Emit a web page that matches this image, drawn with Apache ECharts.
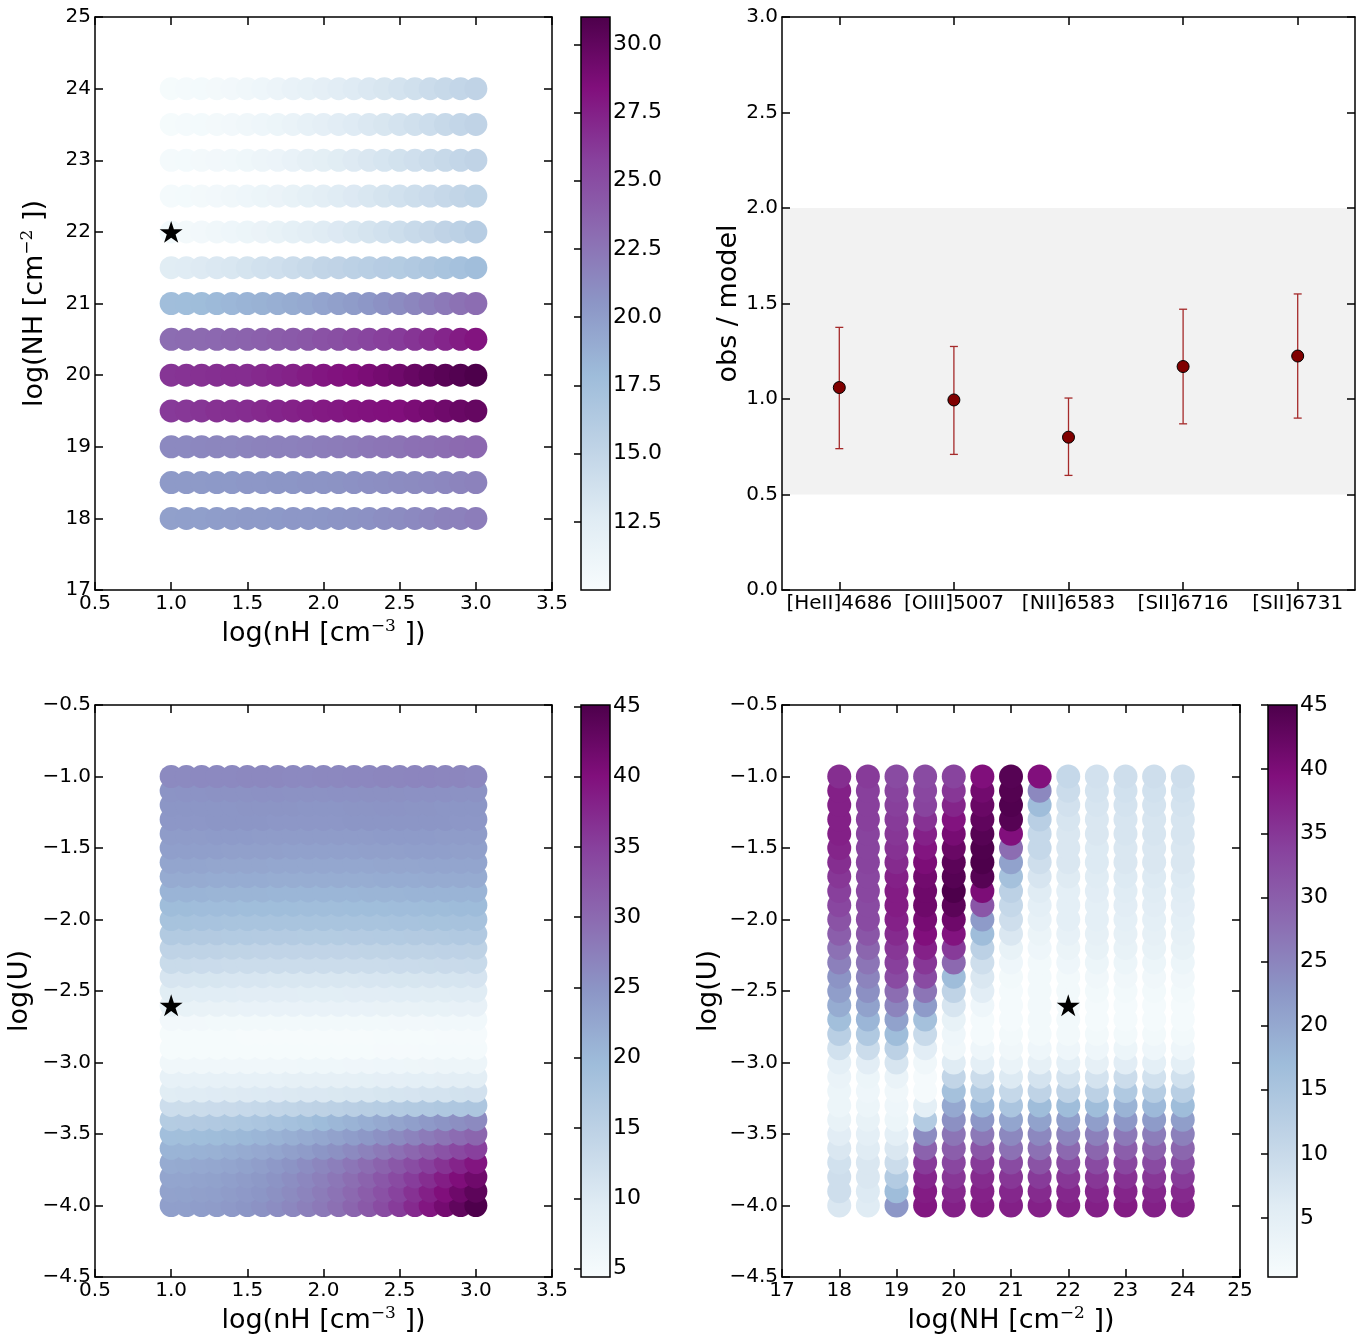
<!DOCTYPE html>
<html>
<head>
<meta charset="utf-8">
<script src="https://cdn.jsdelivr.net/npm/echarts@6/dist/echarts.min.js"></script>
<style>
  html, body { margin: 0; padding: 0; background: #fff; }
  #main { width: 1372px; height: 1340px; }
</style>
</head>
<body>
<div id="main"></div>
<script>
// ---------- data ----------
// log(nH) grid shared by the two left panels
const nhGrid = [1.0, 1.1, 1.2, 1.3, 1.4, 1.5, 1.6, 1.7, 1.8, 1.9, 2.0, 2.1, 2.2, 2.3, 2.4, 2.5, 2.6, 2.7, 2.8, 2.9, 3.0]
// log(NH) rows of the top-left panel
const colRows = [18, 18.5, 19, 19.5, 20, 20.5, 21, 21.5, 22, 22.5, 23, 23.5, 24]
// top-left colour values, one row per log(NH) (same order as colRows)
const tlValues = [
  [19.8, 19.9, 19.9, 20.0, 20.1, 20.2, 20.2, 20.3, 20.4, 20.4, 20.5, 20.6, 20.7, 20.8, 21.0, 21.1, 21.3, 21.5, 21.7, 21.8, 22.0],
  [20.2, 20.2, 20.2, 20.3, 20.3, 20.4, 20.4, 20.5, 20.5, 20.6, 20.6, 20.7, 20.8, 20.9, 21.0, 21.1, 21.2, 21.3, 21.4, 21.6, 21.7],
  [21.3, 21.3, 21.4, 21.5, 21.5, 21.6, 21.7, 21.8, 21.8, 21.9, 22.0, 22.1, 22.2, 22.4, 22.5, 22.6, 22.8, 22.9, 23.0, 23.2, 23.3],
  [26.1, 26.2, 26.4, 26.6, 26.7, 26.8, 27.0, 27.2, 27.4, 27.6, 27.8, 27.9, 28.1, 28.2, 28.3, 28.4, 28.7, 29.0, 29.3, 29.6, 29.8],
  [26.4, 26.5, 26.6, 26.7, 26.8, 26.8, 27.0, 27.2, 27.4, 27.7, 28.0, 28.2, 28.4, 28.7, 29.0, 29.3, 29.7, 30.1, 30.4, 30.7, 31.0],
  [23.0, 23.1, 23.2, 23.3, 23.5, 23.6, 23.8, 24.0, 24.2, 24.4, 24.7, 24.9, 25.2, 25.5, 25.8, 26.0, 26.4, 26.8, 27.2, 27.7, 28.1],
  [17.6, 17.7, 17.8, 18.0, 18.2, 18.4, 18.6, 18.8, 19.0, 19.2, 19.5, 19.8, 20.1, 20.4, 20.8, 21.1, 21.5, 21.9, 22.3, 22.7, 23.0],
  [12.5, 12.6, 12.8, 13.0, 13.2, 13.5, 13.8, 14.0, 14.3, 14.6, 15.0, 15.2, 15.5, 15.7, 16.0, 16.1, 16.4, 16.7, 17.0, 17.3, 17.6],
  [10.4, 10.5, 10.6, 10.8, 11.0, 11.2, 11.4, 11.7, 12.0, 12.3, 12.6, 12.9, 13.2, 13.5, 13.8, 14.1, 14.5, 14.8, 15.2, 15.5, 15.9],
  [10.3, 10.4, 10.5, 10.6, 10.8, 11.0, 11.2, 11.4, 11.7, 12.0, 12.3, 12.6, 12.9, 13.2, 13.5, 13.8, 14.1, 14.4, 14.7, 15.0, 15.3],
  [10.3, 10.4, 10.5, 10.6, 10.7, 10.9, 11.1, 11.3, 11.6, 11.9, 12.2, 12.5, 12.8, 13.1, 13.4, 13.7, 14.0, 14.3, 14.6, 14.9, 15.2],
  [10.2, 10.3, 10.4, 10.5, 10.6, 10.8, 11.0, 11.2, 11.5, 11.8, 12.1, 12.4, 12.7, 13.0, 13.3, 13.6, 13.9, 14.2, 14.6, 14.9, 15.2],
  [10.2, 10.3, 10.4, 10.5, 10.6, 10.8, 11.0, 11.3, 11.6, 11.8, 12.1, 12.4, 12.7, 13.0, 13.3, 13.6, 13.9, 14.3, 14.6, 14.9, 15.2],
]

// log(U) rows, top to bottom
const uRows = [-1.0, -1.1, -1.2, -1.3, -1.4, -1.5, -1.6, -1.7, -1.8, -1.9, -2.0, -2.1, -2.2, -2.3, -2.4, -2.5,
  -2.6, -2.7, -2.8, -2.9, -3.0, -3.1, -3.2, -3.3, -3.4, -3.5, -3.6, -3.7, -3.8, -3.9, -4.0]
// bottom-left colour values, one row per log(U) (same order as uRows)
const blValues = [
  [26.2, 26.2, 26.3, 26.3, 26.3, 26.4, 26.4, 26.4, 26.3, 26.3, 26.4, 26.4, 26.5, 26.5, 26.6, 26.7, 26.8, 26.8, 26.7, 26.6, 26.5],
  [25.0, 25.1, 25.1, 25.2, 25.2, 25.2, 25.3, 25.3, 25.2, 25.2, 25.2, 25.3, 25.3, 25.4, 25.4, 25.4, 25.3, 25.3, 25.3, 25.2, 25.2],
  [24.7, 24.7, 24.8, 24.8, 24.8, 24.9, 24.9, 24.9, 24.9, 24.8, 24.8, 24.8, 24.9, 24.9, 25.0, 25.0, 24.9, 24.9, 24.8, 24.8, 24.8],
  [24.6, 24.6, 24.6, 24.7, 24.7, 24.7, 24.7, 24.6, 24.6, 24.6, 24.6, 24.6, 24.7, 24.7, 24.7, 24.8, 24.8, 24.7, 24.7, 24.6, 24.6],
  [24.0, 24.0, 24.0, 24.1, 24.1, 24.1, 24.0, 24.0, 24.0, 23.9, 23.9, 23.9, 24.0, 24.0, 24.1, 24.1, 24.1, 24.1, 24.0, 24.0, 24.0],
  [23.5, 23.5, 23.5, 23.5, 23.4, 23.4, 23.4, 23.4, 23.3, 23.3, 23.3, 23.3, 23.3, 23.4, 23.4, 23.4, 23.5, 23.5, 23.5, 23.4, 23.4],
  [22.7, 22.7, 22.7, 22.6, 22.6, 22.6, 22.6, 22.5, 22.5, 22.5, 22.5, 22.5, 22.5, 22.5, 22.6, 22.6, 22.6, 22.7, 22.7, 22.7, 22.7],
  [21.9, 21.9, 21.9, 21.8, 21.8, 21.8, 21.8, 21.7, 21.7, 21.7, 21.7, 21.7, 21.7, 21.7, 21.8, 21.8, 21.8, 21.9, 21.9, 21.9, 21.9],
  [20.7, 20.7, 20.7, 20.6, 20.6, 20.6, 20.6, 20.5, 20.5, 20.5, 20.5, 20.5, 20.5, 20.6, 20.6, 20.6, 20.7, 20.7, 20.7, 20.8, 20.8],
  [19.5, 19.5, 19.4, 19.4, 19.4, 19.3, 19.3, 19.3, 19.3, 19.2, 19.2, 19.2, 19.3, 19.3, 19.3, 19.4, 19.4, 19.5, 19.5, 19.6, 19.6],
  [18.2, 18.2, 18.1, 18.1, 18.0, 18.0, 18.0, 17.9, 17.9, 17.9, 17.9, 17.9, 17.9, 18.0, 18.0, 18.1, 18.1, 18.2, 18.2, 18.3, 18.3],
  [16.6, 16.6, 16.5, 16.5, 16.4, 16.4, 16.3, 16.3, 16.3, 16.2, 16.2, 16.2, 16.3, 16.3, 16.4, 16.4, 16.5, 16.5, 16.6, 16.7, 16.7],
  [14.6, 14.6, 14.5, 14.5, 14.4, 14.4, 14.3, 14.3, 14.3, 14.3, 14.3, 14.3, 14.3, 14.4, 14.4, 14.5, 14.5, 14.6, 14.7, 14.7, 14.8],
  [13.0, 13.0, 12.9, 12.9, 12.8, 12.8, 12.7, 12.7, 12.7, 12.7, 12.7, 12.7, 12.7, 12.8, 12.8, 12.9, 12.9, 13.0, 13.1, 13.1, 13.2],
  [10.9, 10.9, 10.8, 10.8, 10.7, 10.7, 10.7, 10.6, 10.6, 10.6, 10.6, 10.6, 10.6, 10.7, 10.7, 10.8, 10.8, 10.9, 11.0, 11.0, 11.1],
  [9.3, 9.3, 9.2, 9.2, 9.2, 9.1, 9.1, 9.1, 9.1, 9.0, 9.0, 9.0, 9.1, 9.1, 9.1, 9.2, 9.2, 9.3, 9.3, 9.4, 9.4],
  [7.7, 7.7, 7.6, 7.6, 7.6, 7.5, 7.5, 7.5, 7.5, 7.5, 7.5, 7.5, 7.5, 7.5, 7.6, 7.6, 7.6, 7.7, 7.7, 7.8, 7.8],
  [5.6, 5.6, 5.6, 5.5, 5.5, 5.5, 5.5, 5.5, 5.5, 5.5, 5.5, 5.5, 5.5, 5.5, 5.5, 5.6, 5.6, 5.6, 5.7, 5.7, 5.7],
  [4.8, 4.8, 4.8, 4.8, 4.8, 4.7, 4.7, 4.7, 4.7, 4.7, 4.7, 4.7, 4.7, 4.7, 4.8, 4.8, 4.8, 4.8, 4.9, 4.9, 4.9],
  [4.8, 4.8, 4.8, 4.8, 4.8, 4.8, 4.8, 4.8, 4.8, 4.8, 4.8, 4.8, 4.8, 4.8, 4.9, 4.9, 4.9, 5.0, 5.0, 5.1, 5.1],
  [6.0, 6.0, 6.0, 6.0, 6.0, 6.0, 6.0, 6.0, 6.0, 6.1, 6.1, 6.1, 6.2, 6.2, 6.3, 6.3, 6.4, 6.5, 6.6, 6.6, 6.7],
  [8.0, 8.0, 8.0, 8.0, 8.0, 8.0, 8.0, 8.0, 8.1, 8.1, 8.1, 8.2, 8.2, 8.3, 8.4, 8.4, 8.5, 8.6, 8.7, 8.8, 8.9],
  [9.3, 9.4, 9.5, 9.6, 9.7, 9.8, 9.9, 10.0, 10.1, 10.2, 10.3, 10.4, 10.5, 10.6, 10.8, 11.0, 11.1, 11.3, 11.4, 11.6, 11.7],
  [12.5, 12.6, 12.7, 12.9, 13.1, 13.3, 13.6, 13.9, 14.2, 14.5, 14.8, 15.1, 15.4, 15.7, 16.0, 16.3, 16.6, 16.8, 17.0, 17.2, 17.4],
  [16.2, 16.3, 16.5, 16.7, 17.0, 17.3, 17.7, 18.1, 18.6, 19.1, 19.7, 20.3, 20.9, 21.5, 22.2, 22.9, 23.6, 24.3, 25.0, 25.6, 26.2],
  [19.0, 19.1, 19.3, 19.5, 19.8, 20.1, 20.5, 20.9, 21.4, 21.9, 22.5, 23.1, 23.8, 24.5, 25.3, 26.1, 27.0, 27.9, 28.8, 29.7, 30.5],
  [20.7, 20.8, 21.0, 21.2, 21.5, 21.9, 22.3, 22.8, 23.4, 24.0, 24.7, 25.4, 26.2, 27.1, 28.1, 29.2, 30.3, 31.5, 32.7, 33.9, 35.0],
  [22.0, 22.1, 22.3, 22.5, 22.8, 23.2, 23.7, 24.3, 25.0, 25.8, 26.6, 27.5, 28.5, 29.6, 30.8, 32.1, 33.5, 34.9, 36.4, 37.9, 39.4],
  [22.7, 22.8, 23.0, 23.2, 23.5, 23.9, 24.4, 25.0, 25.7, 26.5, 27.4, 28.4, 29.5, 30.8, 32.2, 33.7, 35.3, 36.9, 38.6, 40.2, 41.8],
  [23.1, 23.2, 23.4, 23.6, 23.9, 24.3, 24.8, 25.4, 26.1, 26.9, 27.8, 28.9, 30.1, 31.5, 33.0, 34.7, 36.5, 38.3, 40.1, 41.9, 43.5],
  [23.5, 23.6, 23.8, 24.0, 24.3, 24.7, 25.2, 25.8, 26.5, 27.3, 28.2, 29.3, 30.6, 32.0, 33.6, 35.4, 37.3, 39.3, 41.3, 43.2, 45.0],
]

// bottom-right: log(NH) columns, each with one value per log(U) row (same order as uRows)
const brColumns = [18, 18.5, 19, 19.5, 20, 20.5, 21, 21.5, 22, 22.5, 23, 23.5, 24]
const brValues = [
  [36, 37.5, 37.5, 37.5, 37.5, 37, 36, 35, 34, 33, 31.5, 30, 27.5, 25.5, 23, 21.5, 19.5, 16.5, 12.5, 8.5, 5, 3.5, 3, 3, 4, 5.5, 7, 8.5, 9, 9, 7],
  [34.5, 34, 34, 34, 33.5, 33.5, 33.5, 33, 33, 32.5, 32.5, 31, 29, 27, 25, 23.5, 21, 18, 14, 9.5, 5.5, 3, 2.5, 3, 4, 5, 6, 7, 7, 6.5, 6],
  [32.5, 33.5, 34, 34.5, 35, 35.5, 36.3, 37.4, 38, 38, 37.4, 36.3, 35, 34, 32.5, 28, 25, 21, 17, 12, 7.5, 3.5, 2, 2.5, 3, 5, 7, 9.5, 13.5, 17, 22.5],
  [32.5, 33, 33.5, 35.5, 37.4, 38.8, 40, 41, 41.5, 41.5, 40.5, 39.4, 37.4, 35, 32.5, 27, 22, 16, 10, 5.5, 2, 1, 1, 5, 13.5, 24, 29.5, 34.5, 36.8, 38, 38.5],
  [33.5, 35, 37, 39, 40.5, 42, 43.5, 44, 45, 43.5, 41.5, 39, 34.5, 28.5, 17, 11.5, 7.5, 4, 2.5, 2, 6, 11, 16, 20, 23.5, 27, 30, 33, 35, 36.5, 37.5],
  [39.5, 41, 42, 43, 44, 44.8, 45, 44, 40, 31, 22, 17, 12, 9, 7, 5.5, 2.5, 1.2, 1.2, 2.5, 5, 9.5, 13.5, 17.5, 22.5, 26.5, 31, 34.5, 36.3, 37.4, 38],
  [44, 44.3, 44.6, 44, 39.4, 28, 21, 16, 12, 10.5, 9, 7, 4, 2.5, 1.5, 1.2, 1.2, 1.2, 1.5, 2, 3.5, 6.5, 10.5, 15, 20.5, 24.5, 27.5, 32.5, 35, 36.8, 37.5],
  [39.4, 24.5, 17, 12.5, 10.5, 10.5, 9, 7.5, 6, 5, 4.2, 3.2, 2.5, 1.5, 1.5, 1.5, 1.5, 1.5, 1.5, 2.5, 4.5, 8, 11.5, 17, 21, 24.5, 27.5, 31.5, 34.5, 36.3, 37.4],
  [10.5, 9.5, 8.4, 7.5, 7, 7, 7, 6.2, 5, 5, 5, 4.2, 3.3, 2.5, 1.5, 1.5, 1.5, 1.5, 1.5, 2.5, 5, 8, 11.5, 17, 21.5, 25, 28.5, 32.5, 35, 36.8, 37.5],
  [8.4, 8, 7.5, 7, 7, 6.5, 6.5, 6, 5.5, 5, 5, 4.5, 4, 3, 2, 1.5, 1.2, 1.2, 1.5, 2.5, 4.5, 8, 12, 17, 21.5, 25.5, 29, 32.5, 35, 36.8, 37.5],
  [9, 8.5, 8, 7.5, 7.5, 7, 7, 6.5, 6, 5.5, 5, 4.5, 4, 3, 2, 1.5, 1.2, 1.2, 1.5, 3, 5.5, 9.5, 14, 18.5, 22.5, 26.5, 30, 33, 35.5, 37, 38],
  [9, 8.5, 8, 7.5, 7.5, 7, 7, 6.5, 6, 5.5, 5, 4.5, 4, 3, 2, 1.5, 1.2, 1.2, 1.5, 2.5, 5, 8.5, 13, 17.5, 22, 26, 29.5, 32.5, 35, 36.8, 37.5],
  [9, 8.5, 8, 7.5, 7.5, 7, 7, 6.5, 6, 5.5, 5, 4.5, 4, 3, 2, 1.5, 1.2, 1.2, 1.5, 2.5, 5, 8.5, 12.5, 17, 21.5, 25.5, 29, 32, 34.5, 36.5, 37.5],
]

// best-fit markers
const starTL = [1.0, 22]
const starBL = [1.0, -2.6]
const starBR = [22, -2.6]

// top-right: obs / model ratios
const lineNames = ['[HeII]4686', '[OIII]5007', '[NII]6583', '[SII]6716', '[SII]6731']
const ratio = [1.06, 0.995, 0.80, 1.17, 1.225]
const ratioLow = [0.74, 0.71, 0.60, 0.87, 0.90]
const ratioHigh = [1.375, 1.275, 1.005, 1.47, 1.55]
const band = [0.5, 2.0]

// colour bar ranges and ticks
const tlRange = [10, 31]
const blRange = [4.4, 45.1]
const brRange = [0.4, 45]
const tlBarTicks = [12.5, 15, 17.5, 20, 22.5, 25, 27.5, 30]
const blBarTicks = [5, 10, 15, 20, 25, 30, 35, 40, 45]
const brBarTicks = [5, 10, 15, 20, 25, 30, 35, 40, 45]

// ---------- styling ----------
const FONT = 'DejaVu Sans'
const BU_PU = ['#f7fcfd', '#e0ecf4', '#bfd3e6', '#9ebcda', '#8c96c6', '#8c6bb1', '#88419d', '#810f7c', '#4d004b']
const STAR = 'path://M50,0 L61.23,34.55 L97.55,34.55 L68.16,55.9 L79.39,90.45 L50,69.1 L20.61,90.45 L31.84,55.9 L2.45,34.55 L38.77,34.55 Z'
const minus = (s) => String(s).replace('-', '\u2212')
const lineStyle = { color: '#000', width: 1.5 }

const nameStyle = {
  color: '#000',
  fontFamily: FONT,
  fontSize: 27,
  rich: {
    a: { fontSize: 27, fontFamily: FONT, color: '#000', lineHeight: 32 },
    s: { fontSize: 17, fontFamily: 'DejaVu Serif', color: '#000', verticalAlign: 'top', lineHeight: 16 },
  },
}

// main axis with labels
function mainAxis(type, grid, position, min, max, interval, fmt, name, nameGap) {
  return {
    type: 'value',
    gridIndex: grid,
    position,
    min,
    max,
    interval,
    z: 10,
    axisLine: { show: true, onZero: false, lineStyle },
    axisTick: { show: true, inside: true, length: 8, lineStyle },
    axisLabel: { show: true, color: '#000', fontSize: 20, fontFamily: FONT, margin: type === 'x' ? 4 : 4, formatter: fmt },
    splitLine: { show: false },
    name,
    nameLocation: 'middle',
    nameGap,
    nameTextStyle: nameStyle,
  }
}
// mirrored axis, only line and ticks
function mirrorAxis(grid, position, min, max, interval) {
  return {
    type: 'value',
    gridIndex: grid,
    position,
    min,
    max,
    interval,
    z: 10,
    axisLine: { show: true, onZero: false, lineStyle },
    axisTick: { show: true, inside: true, length: 8, lineStyle },
    axisLabel: { show: false },
    splitLine: { show: false },
  }
}
// colour bar axes
function barX(grid) {
  return { type: 'value', gridIndex: grid, min: 0, max: 1, show: false }
}
function barY(grid, range, ticks, fmt) {
  return {
    type: 'value',
    gridIndex: grid,
    position: 'right',
    min: range[0],
    max: range[1],
    z: 10,
    axisLine: { show: false },
    axisTick: { show: true, inside: true, length: 7, lineStyle, customValues: ticks },
    axisLabel: { show: true, color: '#000', fontSize: 22, fontFamily: FONT, margin: 3, formatter: fmt, customValues: ticks },
    splitLine: { show: false },
  }
}

const gradStops = BU_PU.map((c, i) => ({ offset: i / (BU_PU.length - 1), color: c }))
function colorBar(axisIdx, range) {
  return {
    type: 'custom',
    xAxisIndex: axisIdx,
    yAxisIndex: axisIdx,
    silent: true,
    data: [[0, range[0], range[1]]],
    renderItem(params, api) {
      const p0 = api.coord([0, api.value(2)])
      const p1 = api.coord([1, api.value(1)])
      return {
        type: 'rect',
        shape: { x: p0[0], y: p0[1], width: p1[0] - p0[0], height: p1[1] - p0[1] },
        style: { fill: new echarts.graphic.LinearGradient(0, 1, 0, 0, gradStops), stroke: '#000', lineWidth: 1.5 },
      }
    },
  }
}
function starSeries(axisIdx, pos) {
  return {
    type: 'scatter',
    xAxisIndex: axisIdx,
    yAxisIndex: axisIdx,
    symbol: STAR,
    symbolKeepAspect: true,
    symbolSize: 23,
    z: 5,
    itemStyle: { color: '#000', opacity: 1 },
    data: [pos],
  }
}

// ---------- point tables ----------
const tlPoints = []
colRows.forEach((nh, r) => {
  nhGrid.forEach((x, c) => tlPoints.push([x, nh, tlValues[r][c]]))
})
// lower rows first so the upper rows sit on top
const blPoints = []
for (let r = uRows.length - 1; r >= 0; r--) {
  nhGrid.forEach((x, c) => blPoints.push([x, uRows[r], blValues[r][c]]))
}
const brPoints = []
for (let r = uRows.length - 1; r >= 0; r--) {
  brColumns.forEach((nh, c) => brPoints.push([nh, uRows[r], brValues[c][r]]))
}
const errData = lineNames.map((n, i) => [i, ratioLow[i], ratioHigh[i]])

const chart = echarts.init(document.getElementById('main'), null, { renderer: 'canvas' })

const option = {
  animation: false,
  backgroundColor: '#fff',
  grid: [
    { left: 95, top: 17, width: 457, height: 573 },   // 0 top-left
    { left: 581, top: 17, width: 29, height: 573 },   // 1 its colour bar
    { left: 782, top: 17, width: 573, height: 573 },  // 2 top-right
    { left: 95, top: 705, width: 457, height: 572 },  // 3 bottom-left
    { left: 581, top: 705, width: 29, height: 572 },  // 4 its colour bar
    { left: 782, top: 705, width: 458, height: 572 }, // 5 bottom-right
    { left: 1268, top: 705, width: 29, height: 572 }, // 6 its colour bar
  ],
  xAxis: [
    mainAxis('x', 0, 'bottom', 0.5, 3.5, 0.5, (v) => v.toFixed(1),
      '{a|log(nH [cm}{s|\u22123}{a| ])}', 28),
    mirrorAxis(0, 'top', 0.5, 3.5, 0.5),
    barX(1),
    {
      type: 'category',
      gridIndex: 2,
      position: 'bottom',
      data: lineNames,
      boundaryGap: true,
      z: 10,
      axisLine: { show: true, onZero: false, lineStyle },
      axisTick: { show: true, inside: true, length: 8, alignWithLabel: true, lineStyle },
      axisLabel: { color: '#000', fontSize: 20, fontFamily: FONT, margin: 4, interval: 0 },
      splitLine: { show: false },
    },
    {
      type: 'category',
      gridIndex: 2,
      position: 'top',
      data: lineNames,
      boundaryGap: true,
      z: 10,
      axisLine: { show: true, onZero: false, lineStyle },
      axisTick: { show: true, inside: true, length: 8, alignWithLabel: true, lineStyle },
      axisLabel: { show: false },
      splitLine: { show: false },
    },
    mainAxis('x', 3, 'bottom', 0.5, 3.5, 0.5, (v) => v.toFixed(1),
      '{a|log(nH [cm}{s|\u22123}{a| ])}', 28),
    mirrorAxis(3, 'top', 0.5, 3.5, 0.5),
    barX(4),
    mainAxis('x', 5, 'bottom', 17, 25, 1, (v) => String(v),
      '{a|log(NH [cm}{s|\u22122}{a| ])}', 28),
    mirrorAxis(5, 'top', 17, 25, 1),
    barX(6),
  ],
  yAxis: [
    mainAxis('y', 0, 'left', 17, 25, 1, (v) => String(v),
      '{a|log(NH [cm}{s|\u22122}{a| ])}', 44),
    mirrorAxis(0, 'right', 17, 25, 1),
    barY(1, tlRange, tlBarTicks, (v) => v.toFixed(1)),
    mainAxis('y', 2, 'left', 0, 3, 0.5, (v) => v.toFixed(1), 'obs / model', 40),
    mirrorAxis(2, 'right', 0, 3, 0.5),
    mainAxis('y', 3, 'left', -4.5, -0.5, 0.5, (v) => minus(v.toFixed(1)), 'log(U)', 62),
    mirrorAxis(3, 'right', -4.5, -0.5, 0.5),
    barY(4, blRange, blBarTicks, (v) => String(v)),
    mainAxis('y', 5, 'left', -4.5, -0.5, 0.5, (v) => minus(v.toFixed(1)), 'log(U)', 60),
    mirrorAxis(5, 'right', -4.5, -0.5, 0.5),
    barY(6, brRange, brBarTicks, (v) => String(v)),
  ],
  visualMap: [
    { show: false, type: 'continuous', seriesIndex: 0, dimension: 2, min: tlRange[0], max: tlRange[1], inRange: { color: BU_PU } },
    { show: false, type: 'continuous', seriesIndex: 7, dimension: 2, min: blRange[0], max: blRange[1], inRange: { color: BU_PU } },
    { show: false, type: 'continuous', seriesIndex: 10, dimension: 2, min: brRange[0], max: brRange[1], inRange: { color: BU_PU } },
  ],
  series: [
    // 0 top-left grid of models
    { type: 'scatter', xAxisIndex: 0, yAxisIndex: 0, symbolSize: 23, large: false, itemStyle: { opacity: 1 }, data: tlPoints },
    starSeries(0, starTL),
    colorBar(2, tlRange),
    // 3 grey band
    {
      type: 'custom',
      xAxisIndex: 3,
      yAxisIndex: 3,
      silent: true,
      z: 1,
      data: [[0, band[0], band[1]]],
      renderItem(params, api) {
        const cs = params.coordSys
        const yTop = api.coord([0, api.value(2)])[1]
        const yBot = api.coord([0, api.value(1)])[1]
        return {
          type: 'rect',
          shape: { x: cs.x, y: yTop, width: cs.width, height: yBot - yTop },
          style: { fill: '#f2f2f2' },
        }
      },
    },
    // 4 error bars
    {
      type: 'custom',
      xAxisIndex: 3,
      yAxisIndex: 3,
      z: 3,
      data: errData,
      renderItem(params, api) {
        const lo = api.coord([api.value(0), api.value(1)])
        const hi = api.coord([api.value(0), api.value(2)])
        const cap = 4
        const st = { stroke: '#a52a2a', lineWidth: 1.3 }
        return {
          type: 'group',
          children: [
            { type: 'line', shape: { x1: lo[0], y1: lo[1], x2: hi[0], y2: hi[1] }, style: st },
            { type: 'line', shape: { x1: lo[0] - cap, y1: lo[1], x2: lo[0] + cap, y2: lo[1] }, style: st },
            { type: 'line', shape: { x1: hi[0] - cap, y1: hi[1], x2: hi[0] + cap, y2: hi[1] }, style: st },
          ],
        }
      },
    },
    // 5 ratio points
    {
      type: 'scatter',
      xAxisIndex: 3,
      yAxisIndex: 3,
      z: 4,
      symbolSize: 12,
      itemStyle: { color: '#800000', borderColor: '#000', borderWidth: 1, opacity: 1 },
      data: ratio,
    },
    // 6 (empty slot, keeps the visualMap series indices simple)
    { type: 'scatter', xAxisIndex: 5, yAxisIndex: 5, data: [] },
    // 7 bottom-left grid of models
    { type: 'scatter', xAxisIndex: 5, yAxisIndex: 5, symbolSize: 23, large: false, itemStyle: { opacity: 1 }, data: blPoints },
    starSeries(5, starBL),
    colorBar(7, blRange),
    // 10 bottom-right grid of models
    { type: 'scatter', xAxisIndex: 8, yAxisIndex: 8, symbolSize: 24, large: false, itemStyle: { opacity: 1 }, data: brPoints },
    starSeries(8, starBR),
    colorBar(10, brRange),
  ],
}

chart.setOption(option)
window.addEventListener('resize', () => {
  chart.resize()
})
</script>
</body>
</html>
